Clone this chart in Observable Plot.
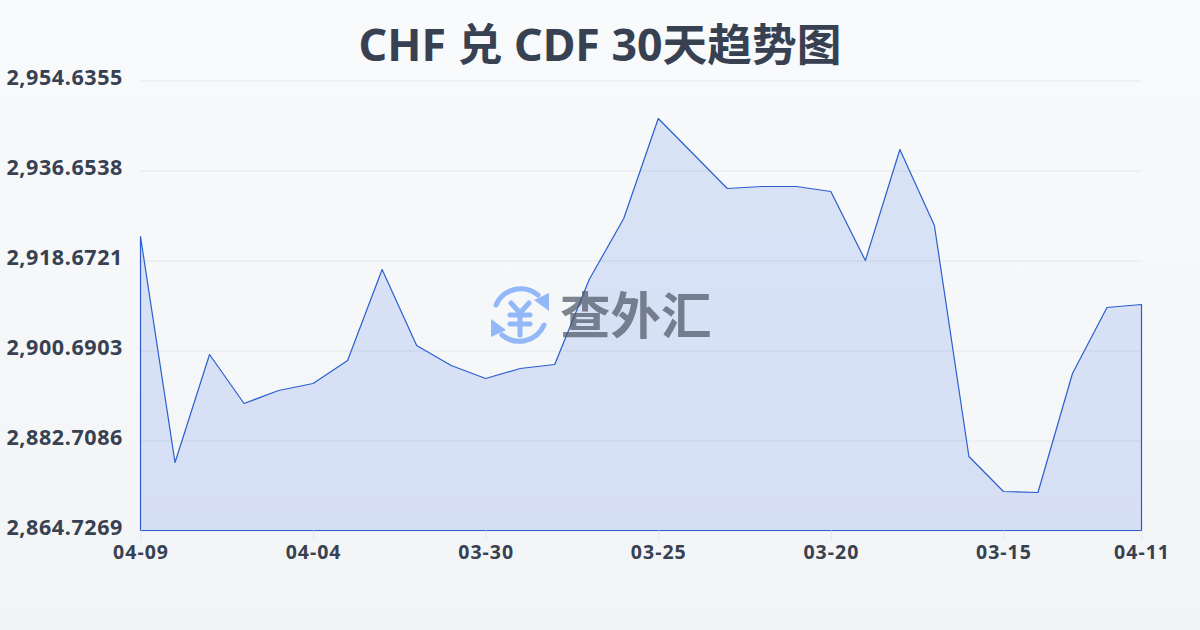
<!DOCTYPE html>
<html lang="zh">
<head>
<meta charset="utf-8">
<script src="https://cdn.jsdelivr.net/npm/d3@7"></script>
<script src="https://cdn.jsdelivr.net/npm/@observablehq/plot@0.6"></script>
<style>
html,body{margin:0;padding:0;width:1200px;height:630px;overflow:hidden;background:linear-gradient(180deg,#f8fafc 0%,#f3f4f6 100%);}
#wrap{position:relative;width:1200px;height:630px;font-family:"Noto Sans","Noto Sans CJK SC",sans-serif;}
h1{margin:0;height:50px;line-height:88px;text-align:center;font-size:44.7px;font-weight:700;color:#374151;font-family:"Noto Sans","Noto Sans CJK SC",sans-serif;}
#chart svg{display:block;background:transparent;}
#wm{position:absolute;left:488px;top:283px;width:64px;height:64px;pointer-events:none;}
#wmt{position:absolute;left:560px;top:277px;font:700 50.5px/70px "Noto Sans CJK SC",sans-serif;color:#4b5563;opacity:.7;white-space:nowrap;}
</style>
</head>
<body>
<div id="wrap">
<h1>CHF 兑 CDF 30天趋势图</h1>
<div id="chart"></div>
<svg id="wm" viewBox="0 0 64 64">
  <g fill="none" stroke="#93b8f8" stroke-width="5" stroke-linecap="round">
    <path d="M8 22 A27 27 0 0 1 50 12"/>
    <path d="M56 42 A27 27 0 0 1 14 52"/>
    <path d="M23 20 L32 30 L41 20 M22 32 H42 M22 41 H42 M32 30 V52"/>
  </g>
  <path d="M61 10 V28 L46 17 Z" fill="#93b8f8"/>
  <path d="M3 36 V54 L18 47 Z" fill="#93b8f8"/>
</svg>
<div id="wmt">查外汇</div>
</div>
<script>
const dates = ["04-09","04-08","04-07","04-06","04-05","04-04","04-03","04-02","04-01","03-31","03-30","03-29","03-28","03-27","03-26","03-25","03-24","03-23","03-22","03-21","03-20","03-19","03-18","03-17","03-16","03-15","03-14","03-13","03-12","04-11"];
const rates = [2923.47,2878.31,2899.89,2890.10,2892.70,2894.10,2898.69,2916.87,2901.69,2897.69,2895.09,2897.09,2897.89,2914.88,2927.06,2947.04,2940.05,2933.06,2933.46,2933.46,2932.46,2918.67,2940.85,2925.67,2879.51,2872.52,2872.32,2896.09,2909.28,2909.88];
const yTicks = [2954.6355,2936.6538,2918.6721,2900.6903,2882.7086,2864.7269];
const xTicks = ["04-09","04-04","03-30","03-25","03-20","03-15","04-11"];
const table = dates.map((d,i)=>({date:d,rate:rates[i]}));
const yMin = yTicks[yTicks.length-1], yMax = yTicks[0];
const plot = Plot.plot({
  width:1200,height:580,
  marginTop:30.5,marginBottom:99.5,marginLeft:140.5,marginRight:58.5,
  style:{background:"transparent",fontFamily:'"Noto Sans",sans-serif'},
  x:{type:"point",domain:dates,padding:0,round:false,label:null},
  y:{domain:[yMin,yMax],label:null},
  marks:[
    Plot.ruleY(yTicks,{stroke:"#e5e7eb",strokeWidth:1}),
    Plot.area(table,{x1:"date",y1:()=>yMin,y2:"rate",fill:"#2f66dc",fillOpacity:.15,stroke:"#2b5fd0",strokeWidth:1.2,curve:"linear"}),
    Plot.axisY({ticks:yTicks,tickSize:0,tickPadding:18,dy:-2.5,tickFormat:d=>d3.format(",.4f")(d),fontSize:21.5,fontWeight:700,fill:"#374151",label:null}),
    Plot.axisX({ticks:xTicks,tickSize:10,tickPadding:4,stroke:"#e5e7eb",fontSize:19.5,fontWeight:700,fill:"#374151",label:null})
  ]
});
const yl = plot.querySelector('[aria-label="y-axis tick label"]');
const xl = plot.querySelector('[aria-label="x-axis tick label"]');
if (yl) yl.style.letterSpacing = "0.6px";
if (xl) xl.style.letterSpacing = "1px";
document.getElementById("chart").appendChild(plot);
</script>
</body>
</html>
